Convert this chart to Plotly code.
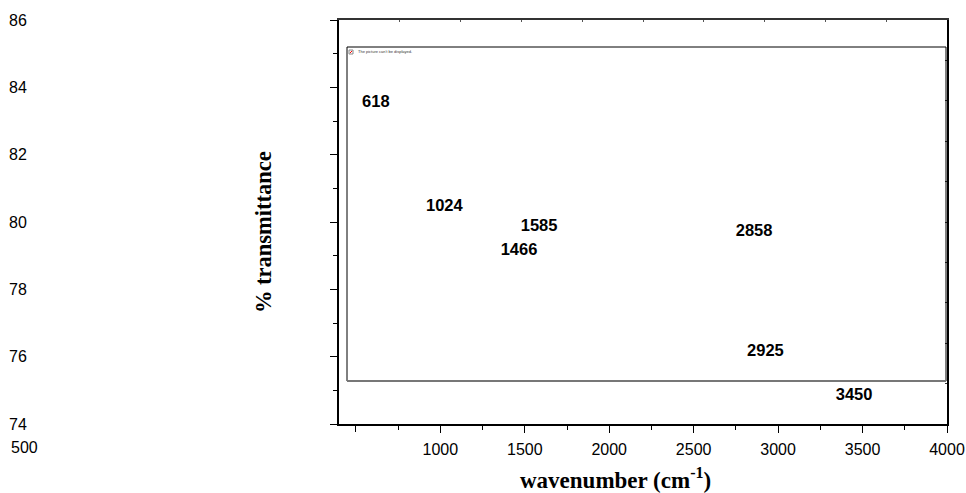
import plotly.graph_objects as go

# Peak positions (cm-1) and the transmittance level at which each is labelled
peak_wavenumbers = [618, 1024, 1585, 1466, 2858, 2925, 3450]
peak_transmittance = [83.55, 80.45, 79.85, 79.15, 79.7, 76.15, 74.85]
peak_labels = [str(v) for v in peak_wavenumbers]

x_tick_vals = [1000, 1500, 2000, 2500, 3000, 3500, 4000]
x_tick_text = ["1000", "1500", "2000", "2500", "3000", "3500", "4000"]
x_first_tick = [500]
y_tick_vals = [74, 76, 78, 80, 82, 84, 86]
y_tick_text = ["74", "76", "78", "80", "82", "84", "86"]

W, H = 966, 493
L, R, T, B = 339, 19, 20, 69
PW, PH = W - L - R, H - T - B


def px_x(x):
    return (x - L) / PW


def px_y(y):
    return (H - B - y) / PH


fig = go.Figure()

fig.add_trace(go.Scatter(
    x=peak_wavenumbers, y=peak_transmittance, text=peak_labels,
    mode="text", textposition="middle center",
    textfont=dict(family="Liberation Sans, Arial", size=16.5, color="black", weight="bold"),
    hoverinfo="skip", showlegend=False,
))

# frame-only secondary axes for the top and right borders
fig.add_trace(go.Scatter(x=[None], y=[None], xaxis="x2", yaxis="y2",
                         showlegend=False, hoverinfo="skip"))
# extra bottom axis carrying the unlabelled major tick at 500
fig.add_trace(go.Scatter(x=[None], y=[None], xaxis="x3", yaxis="y",
                         showlegend=False, hoverinfo="skip"))

fig.update_layout(
    width=W, height=H,
    margin=dict(l=L, r=R, t=T, b=B, pad=0, autoexpand=False),
    paper_bgcolor="white", plot_bgcolor="white",
    font=dict(family="Liberation Sans, Arial", size=16, color="black"),
    xaxis=dict(
        range=[400, 4000], tickvals=x_tick_vals, ticktext=x_tick_text,
        ticks="outside", ticklen=7, tickwidth=1, tickcolor="black",
        minor=dict(dtick=250, tick0=500, ticks="outside", ticklen=4, tickcolor="black"),
        showline=True, linecolor="black", linewidth=2,
        showgrid=False, zeroline=False, ticklabelstandoff=3,
        tickfont=dict(size=16), automargin=False,
    ),
    xaxis3=dict(
        overlaying="x", side="bottom", range=[400, 4000], tickvals=x_first_tick,
        ticks="outside", ticklen=7, tickwidth=1, tickcolor="black",
        showticklabels=False, showline=False, showgrid=False, zeroline=False,
        automargin=False,
    ),
    yaxis=dict(
        range=[74, 86], tickvals=y_tick_vals, ticktext=y_tick_text,
        ticks="outside", ticklen=7, tickwidth=1, tickcolor="black",
        minor=dict(dtick=1, tick0=74, ticks="outside", ticklen=4, tickcolor="black"),
        showline=True, linecolor="black", linewidth=2,
        showgrid=False, zeroline=False, ticklabelstandoff=300,
        tickfont=dict(size=16), automargin=False,
    ),
    xaxis2=dict(
        overlaying="x", side="top", range=[0, 10], dtick=1,
        ticks="inside", ticklen=2, tickcolor="#555", showticklabels=False,
        showline=True, linecolor="#333", linewidth=2,
        showgrid=False, zeroline=False, automargin=False,
    ),
    yaxis2=dict(
        overlaying="y", side="right", range=[0, 10], dtick=1,
        ticks="inside", ticklen=2, tickcolor="#333", showticklabels=False,
        showline=True, linecolor="black", linewidth=2,
        showgrid=False, zeroline=False, automargin=False,
    ),
    showlegend=False,
)

# embedded picture placeholder box
fig.add_shape(type="rect", xref="paper", yref="paper",
              x0=px_x(347), x1=px_x(946), y0=px_y(381), y1=px_y(47),
              line=dict(color="black", width=1))
fig.add_shape(type="line", xref="paper", yref="paper",
              x0=px_x(347), x1=px_x(946), y0=px_y(381), y1=px_y(381),
              line=dict(color="#777", width=2))
fig.add_shape(type="rect", xref="paper", yref="paper",
              x0=px_x(349), x1=px_x(353), y0=px_y(54), y1=px_y(50),
              line=dict(color="#888", width=1))
fig.add_shape(type="line", xref="paper", yref="paper",
              x0=px_x(350), x1=px_x(352), y0=px_y(53), y1=px_y(51),
              line=dict(color="red", width=1))
fig.add_annotation(text="The picture can't be displayed.", xref="paper", yref="paper",
                   x=px_x(356), y=px_y(52), xanchor="left", yanchor="middle",
                   showarrow=False, font=dict(size=4, color="#333"))

# axis titles
fig.add_annotation(text="wavenumber (cm<sup>-1</sup>)", xref="paper", yref="paper",
                   x=px_x(615), y=px_y(478), xanchor="center", yanchor="middle",
                   showarrow=False,
                   font=dict(family="Liberation Serif, Times New Roman", size=23,
                             color="black", weight="bold"))
fig.add_annotation(text="% transmittance", xref="paper", yref="paper",
                   x=px_x(263), y=px_y(232), xanchor="center", yanchor="middle",
                   textangle=-90, showarrow=False,
                   font=dict(family="Liberation Serif, Times New Roman", size=22.5,
                             color="black", weight="bold"))

# first x tick label sits at the far left
fig.add_annotation(text="500", xref="paper", yref="paper",
                   x=px_x(9), y=px_y(447), xanchor="left", yanchor="middle",
                   showarrow=False, font=dict(size=16, color="black"))

fig.write_html("out.html")
